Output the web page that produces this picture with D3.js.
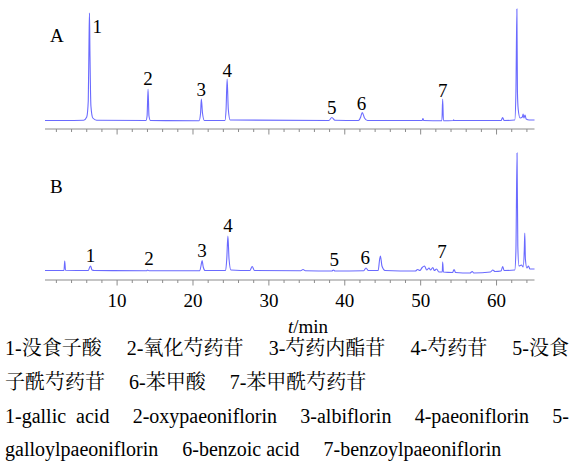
<!DOCTYPE html>
<html>
<head>
<meta charset="utf-8">
<script src="https://cdn.jsdelivr.net/npm/d3@7"></script>
<style>
  body { margin: 0; background: #fff; }
</style>
</head>
<body>
<div id="chart"></div>
<script>
// chromatogram A (reference standards): [time min, signal]
const traceA = [
  [0.5, 0.5], [3, 0.5], [5.6, 0.8], [6.0, 4], [6.2, 20], [6.3, 80], [6.36, 108], [6.42, 70],
  [6.55, 15], [6.8, 3], [7.3, 0.8], [13.8, 0.5], [13.95, 5], [14.08, 32], [14.2, 5], [14.4, 0.5],
  [20.8, 0.3], [21.0, 8], [21.1, 22], [21.25, 8], [21.5, 0.5], [24.2, 0.5], [24.35, 10], [24.5, 42],
  [24.65, 12], [24.9, 1], [37.9, 0.5], [38.3, 3.5], [38.7, 0.8], [41.8, 0.5], [42.1, 4], [42.3, 8.5],
  [42.6, 3], [43, 0.5], [50.2, 0.5], [50.3, 2.5], [50.4, 0.5], [52.8, 0.3], [52.9, 22], [53.0, 0.3],
  [54.3, 0.5], [54.35, 1.2], [54.4, 0.5], [60.6, 0.5], [60.8, 3.5], [61, 0.5], [62.4, 1], [62.55, 28],
  [62.68, 112], [62.75, 30], [62.85, 12], [63.1, 3], [63.4, 4], [63.5, 7], [63.6, 3], [63.75, 6],
  [63.9, 2], [64.3, 1], [65, 1]
]

// chromatogram B (sample)
const traceB = [
  [0.5, 0.5], [3.0, 0.5], [3.1, 10], [3.2, 0.8], [6.2, 0.5], [6.4, 4], [6.5, 5], [6.7, 1], [7, 0.5],
  [13.9, 0.3], [14, 1], [14.2, 0.3], [20.9, 0.3], [21.05, 5], [21.2, 10.5], [21.35, 4], [21.6, 0.5],
  [24.3, 0.5], [24.45, 12], [24.6, 35], [24.75, 12], [25, 1], [27.5, 0.5], [27.8, 4.5], [28.1, 0.5],
  [34.2, 0.3], [34.5, 1.5], [34.8, 0.3], [38.3, 0], [38.5, 1], [38.7, 0], [42.5, 0.3], [42.8, 3],
  [43.1, 0.5], [44.4, 0.5], [44.6, 12], [44.7, 15], [44.9, 5], [45.3, 0.5], [49.3, 0], [49.6, 1.5],
  [49.9, 0.5], [50.2, 3.5], [50.5, 5], [50.8, 1], [51.1, 3], [51.3, 1], [51.6, 3.5], [51.8, 0.5],
  [52.1, 2], [52.4, -1], [52.85, -1], [52.9, 9], [53, -1], [54.2, -1.5], [54.4, 1.5], [54.6, -1.5],
  [56.5, -2], [56.8, -0.5], [57, -2], [59.2, -1], [59.5, 1], [59.8, -0.5], [60.6, 0], [60.8, 4.5],
  [61, 0.5], [62.4, 1], [62.55, 20], [62.7, 118], [62.8, 25], [62.95, 5], [63.3, 6], [63.5, 4],
  [63.65, 20], [63.72, 38], [63.8, 12], [64.0, 3], [64.2, 5], [64.4, 2], [65, 2]
]

// peak numbers and where they are written
const peakNos = ['1', '2', '3', '4', '5', '6', '7']
const labelTimesA = [7.4, 14.08, 21.1, 24.5, 38.3, 42.2, 52.9]
const labelLevelsA = [88, 36.5, 25.5, 44.5, 7.5, 11.5, 24]
const labelTimesB = [6.5, 14.2, 21.2, 24.6, 38.6, 42.7, 52.8]
const labelLevelsB = [9.5, 6.5, 14, 39, 5.5, 7, 13.5]

const majorTicks = [10, 20, 30, 40, 50, 60]
const minorTicks = d3.range(2, 65, 2).filter(d => d % 10 !== 0)

const legendZh1 = ['1-没食子酸', '2-氧化芍药苷', '3-芍药内酯苷', '4-芍药苷', '5-没食']
const legendZh2 = ['子酰芍药苷', '6-苯甲酸', '7-苯甲酰芍药苷']
const legendEn1 = ['1-gallic\u00a0\u00a0acid', '2-oxypaeoniflorin', '3-albiflorin', '4-paeoniflorin', '5-']
const legendEn2 = ['galloylpaeoniflorin', '6-benzoic acid', '7-benzoylpaeoniflorin']

const width = 573
const height = 463
const lineColor = '#6a6aff'
const axisColor = '#8c8c8c'
const serif = '"Liberation Serif", "Noto Serif CJK SC", "Noto Sans CJK SC", serif'

const svg = d3.select('#chart').append('svg')
  .attr('width', width)
  .attr('height', height)
  .style('font-family', serif)

const x = d3.scaleLinear().domain([0.5, 65]).range([45, 534.5])

const panels = [
  {name: 'A', trace: traceA, base: 121, axisY: 129, labelT: labelTimesA, labelV: labelLevelsA, nameY: 41.5},
  {name: 'B', trace: traceB, base: 271, axisY: 280, labelT: labelTimesB, labelV: labelLevelsB, nameY: 193}
]

panels.forEach(p => {
  const y = d3.scaleLinear().domain([0, 120]).range([p.base, p.base - 120])

  // x axis with long ticks every 10 and short ones every 2
  const g = svg.append('g').attr('transform', `translate(0, ${p.axisY})`)
  g.append('line')
    .attr('x1', x(0.5)).attr('x2', x(65))
    .attr('stroke', axisColor).attr('stroke-width', 1)
  g.selectAll('.major').data(majorTicks).enter().append('line')
    .attr('x1', d => x(d)).attr('x2', d => x(d))
    .attr('y1', 0).attr('y2', 5.5)
    .attr('stroke', axisColor)
  g.selectAll('.minor').data(minorTicks).enter().append('line')
    .attr('x1', d => x(d)).attr('x2', d => x(d))
    .attr('y1', 0).attr('y2', 3)
    .attr('stroke', axisColor)

  const line = d3.line()
    .x(d => x(d[0]))
    .y(d => y(d[1]))
    .curve(d3.curveMonotoneX)

  svg.append('path')
    .datum(p.trace)
    .attr('d', line)
    .attr('fill', 'none')
    .attr('stroke', lineColor)
    .attr('stroke-width', 1.1)

  svg.append('text')
    .attr('x', 50).attr('y', p.nameY)
    .style('font-size', '19px')
    .text(p.name)

  svg.selectAll(null).data(peakNos).enter().append('text')
    .attr('x', (d, i) => x(p.labelT[i]))
    .attr('y', (d, i) => y(p.labelV[i]))
    .attr('text-anchor', 'middle')
    .style('font-size', '19px')
    .text(d => d)
})

// tick labels only on the lower chart
svg.selectAll('.tl').data(majorTicks).enter().append('text')
  .attr('x', d => x(d))
  .attr('y', 306.5)
  .attr('text-anchor', 'middle')
  .style('font-size', '19px')
  .text(d => d)

const xt = svg.append('text')
  .attr('x', 308).attr('y', 333)
  .attr('text-anchor', 'middle')
  .style('font-size', '19px')
xt.append('tspan').style('font-style', 'italic').text('t')
xt.append('tspan').text('/min')

// caption: first lines of each paragraph justified, last lines with a plain gap
const legendRows = [
  {items: legendZh1, y: 355, justify: true},
  {items: legendZh2, y: 389, justify: false},
  {items: legendEn1, y: 423, justify: true},
  {items: legendEn2, y: 456, justify: false}
]
const left = 5
const right = 569
const plainGap = 24
legendRows.forEach(row => {
  const texts = svg.selectAll(null).data(row.items).enter().append('text')
    .attr('y', row.y)
    .style('font-size', '20px')
    .text(d => d)
  const widths = texts.nodes().map(n => n.getComputedTextLength())
  const total = d3.sum(widths)
  const gap = row.justify ? (right - left - total) / (widths.length - 1) : plainGap
  let cx = left
  texts.attr('x', (d, i) => {
    const here = cx
    cx += widths[i] + gap
    return here
  })
})
</script>
</body>
</html>
